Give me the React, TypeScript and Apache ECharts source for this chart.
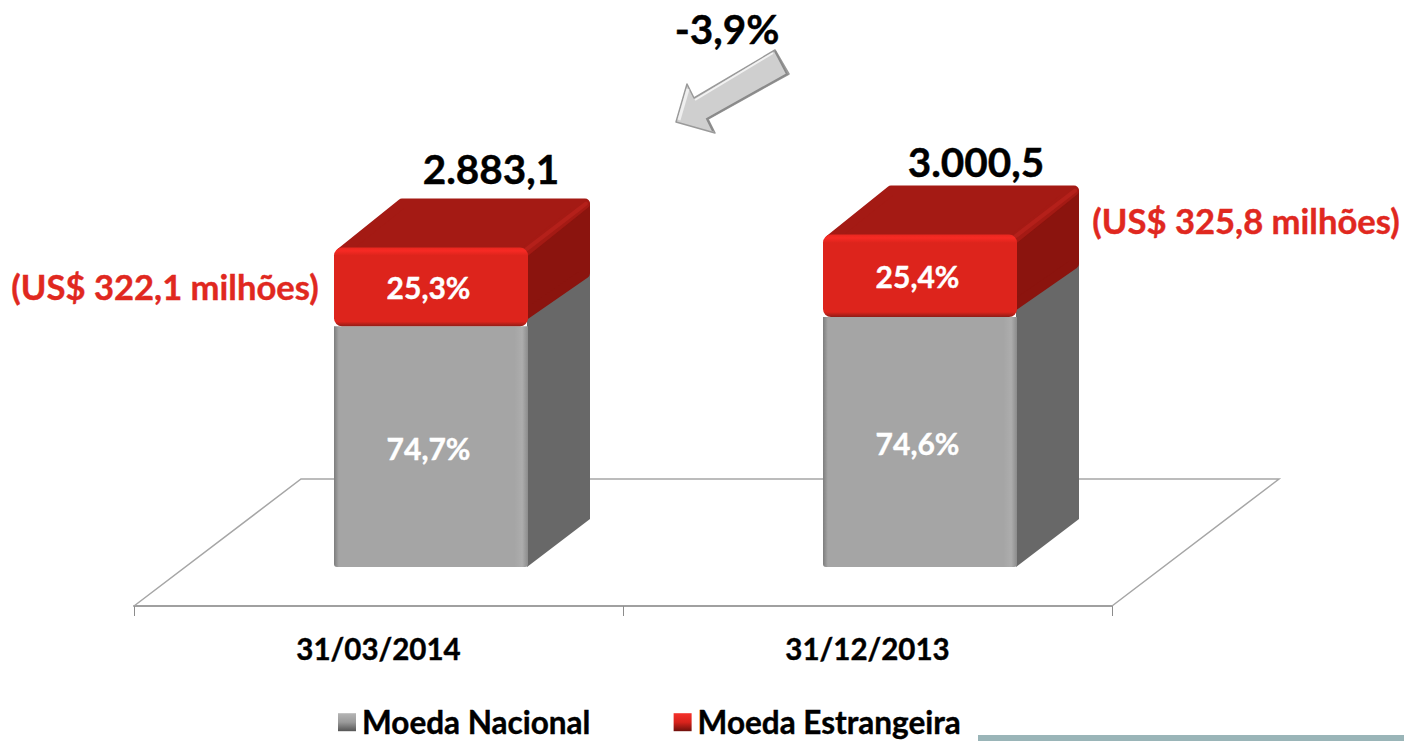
import React, { useEffect, useRef } from "react";
import * as echarts from "echarts";

const categories = ["31/03/2014", "31/12/2013"];
const moedaNacional = [2153.7, 2238.4];
const moedaEstrangeira = [729.4, 762.1];
const pctNacional = ["74,7%", "74,6%"];
const pctEstrangeira = ["25,3%", "25,4%"];
const totals = ["2.883,1", "3.000,5"];
const usdLabels = ["(US$ 322,1 milhões)", "(US$ 325,8 milhões)"];
const variation = "-3,9%";

const FONT = "Lato, Carlito, sans-serif";
const RED = "#e0281f";
const BAR_W = 194;
const OFF_X = 52.5, OFF_Y = 39;
const DX = 62, DY = 48;
const FLOOR_DX = 167, FLOOR_DY = 127;

const hGrad = (stops: [number, string][]) =>
  new echarts.graphic.LinearGradient(0, 0, 1, 0, stops.map(([offset, color]) => ({ offset, color })));
const vGrad = (stops: [number, string][]) =>
  new echarts.graphic.LinearGradient(0, 0, 0, 1, stops.map(([offset, color]) => ({ offset, color })));

function barFrame(api: any) {
  const cat = api.value(0);
  const b = api.coord([cat, api.value(1)]);
  const t = api.coord([cat, api.value(2)]);
  const x0 = b[0] + OFF_X - BAR_W / 2;
  return { cat, x0, x1: x0 + BAR_W, yB: b[1] - OFF_Y, yT: t[1] - OFF_Y };
}

const pctStyle = (text: string, x: number, y: number) => ({
  text, x, y, align: "center", verticalAlign: "middle", fill: "#fff",
  font: `bold 30px ${FONT}`, stroke: "#fff", lineWidth: 0.4,
});

const renderGray = (_p: any, api: any) => {
  const { cat, x0, x1, yB, yT } = barFrame(api);
  const top = yT - 2;
  const sideTop = yT - 10;
  return {
    type: "group",
    children: [
      { type: "polygon", shape: { points: [[x1 - 1, sideTop], [x1 + DX, sideTop - DY], [x1 + DX, yB - DY], [x1 - 1, yB]] }, style: { fill: "#686868" } },
      {
        type: "rect", shape: { x: x0, y: top, width: BAR_W, height: yB - top, r: [0, 0, 3, 3] },
        style: { fill: hGrad([[0, "#7d7d7d"], [0.025, "#a5a5a5"], [0.93, "#a5a5a5"], [0.97, "#adadad"], [1, "#8c8c8c"]]) },
      },
      { type: "text", style: pctStyle(pctNacional[cat], (x0 + x1) / 2 - 2.5, (yT + yB) / 2) },
    ],
  };
};

const renderRed = (_p: any, api: any) => {
  const { cat, x0, x1, yB, yT } = barFrame(api);
  const bot = yB - 2;
  const i = 5;
  return {
    type: "group",
    children: [
      {
        type: "polygon",
        shape: { points: [[x1 - 8, yT + 8], [x1 + DX - i, yT - DY + i], [x1 + DX - i, bot - DY - i], [x1 - 8, bot - 8]] },
        style: { fill: "#8b140e", stroke: "#8b140e", lineWidth: 10, lineJoin: "round" },
      },
      {
        type: "polygon",
        shape: { points: [[x0 + i + 2, yT + i], [x0 + DX + 6, yT - DY + i - 1], [x1 + DX - i, yT - DY + i - 1], [x1 - 4, yT + i]] },
        style: { fill: "#a41a14", stroke: "#a41a14", lineWidth: 10, lineJoin: "round" },
      },
      { type: "line", shape: { x1: x1 - 2, y1: yT + 2, x2: x1 + DX - 4, y2: yT - DY + 4 }, style: { stroke: "#b4201a", lineWidth: 4, lineCap: "round" } },
      {
        type: "rect", shape: { x: x0, y: yT, width: BAR_W, height: bot - yT, r: 8 },
        style: { fill: vGrad([[0, "#e8271f"], [0.04, "#f72a24"], [0.1, "#dd241c"], [0.94, "#dd241c"], [1, "#8f1c16"]]) },
      },
      { type: "text", style: pctStyle(pctEstrangeira[cat], (x0 + x1) / 2 - 2.5, (yT + bot) / 2) },
    ],
  };
};

const renderFloor = (p: any) => {
  const { x, y, width, height } = p.coordSys;
  const bx = x + width, by = y + height;
  return {
    type: "polyline",
    shape: { points: [[x, by], [x + FLOOR_DX, by - FLOOR_DY], [bx + FLOOR_DX, by - FLOOR_DY], [bx, by]] },
    style: { stroke: "#a6a6a6", lineWidth: 1.5, fill: "none" },
  };
};

const noteText = (text: string, x: number, y: number, size: number, fill: string) => ({
  type: "text", x, y,
  style: { text, align: "center", verticalAlign: "middle", fill, font: `bold ${size}px ${FONT}`, stroke: fill, lineWidth: 0.4 },
});

export default function App() {
  const ref = useRef<HTMLDivElement>(null);
  useEffect(() => {
    const chart = echarts.init(ref.current!, null, { renderer: "svg" });
    chart.setOption({
      animation: false,
      backgroundColor: "#fff",
      grid: { left: 134, top: 218.2, width: 978, height: 387.8 },
      xAxis: {
        type: "category",
        data: categories,
        axisLine: { lineStyle: { color: "#a0a0a0", width: 2 } },
        axisTick: { show: true, length: 10, alignWithLabel: false, lineStyle: { color: "#8c8c8c", width: 1 } },
        axisLabel: { color: "#000", fontFamily: FONT, fontWeight: "bold", fontSize: 29.5, margin: 27, textBorderColor: "#000", textBorderWidth: 0.4 },
      },
      yAxis: { type: "value", min: 0, max: 3500, show: false },
      legend: {
        data: ["Moeda Nacional", "Moeda Estrangeira"],
        left: 333, top: 701, padding: [5, 5, 0, 5], icon: "rect", itemWidth: 18, itemHeight: 18, itemGap: 83,
        textStyle: { color: "#000", fontFamily: FONT, fontWeight: "bold", fontSize: 31.5, lineHeight: 28, padding: [0, 0, 0, 1], textBorderColor: "#000", textBorderWidth: 0.4 },
      },
      series: [
        { type: "custom", name: "floor", silent: true, z: 1, data: [[0]], renderItem: renderFloor },
        {
          type: "custom", name: "Moeda Nacional", z: 3, renderItem: renderGray,
          itemStyle: { color: vGrad([[0, "#b5b5b5"], [0.5, "#9a9a9a"], [1, "#555"]]) },
          encode: { x: 0, y: [1, 2] },
          data: moedaNacional.map((v, i) => [i, 0, v]),
        },
        {
          type: "custom", name: "Moeda Estrangeira", z: 4, renderItem: renderRed,
          itemStyle: { color: vGrad([[0, "#f5312b"], [0.5, "#d8231c"], [1, "#6e100c"]]) },
          encode: { x: 0, y: [1, 2] },
          data: moedaEstrangeira.map((v, i) => [i, moedaNacional[i], moedaNacional[i] + v]),
        },
      ],
      graphic: [
        noteText(totals[0], 491, 168, 40.5, "#000"),
        noteText(totals[1], 976, 161, 40.5, "#000"),
        noteText(variation, 727, 28, 40.5, "#000"),
        noteText(usdLabels[0], 165, 286, 34.6, RED),
        noteText(usdLabels[1], 1246, 220, 34.6, RED),
        {
          type: "polygon",
          shape: { points: [[775, 50], [789, 74], [708, 119], [715, 133], [676, 122], [687, 84], [694, 98]] },
          style: { fill: "#cfcfcf", stroke: "#9a9a9a", lineWidth: 1.5, lineJoin: "round" },
        },
        { type: "polyline", shape: { points: [[773, 53], [695, 100]] }, style: { stroke: "#f2f2f2", lineWidth: 2, fill: "none" } },
        { type: "polyline", shape: { points: [[679, 120], [688, 89]] }, style: { stroke: "#efefef", lineWidth: 3, fill: "none" } },
        { type: "polyline", shape: { points: [[775, 51], [787, 74], [707, 119], [713, 131]] }, style: { stroke: "#8a8a8a", lineWidth: 2, fill: "none" } },
        { type: "rect", shape: { x: 978, y: 735, width: 426, height: 6 }, style: { fill: "#9ab5b8" } },
      ],
    });
    return () => chart.dispose();
  }, []);
  return <div ref={ref} style={{ position: "fixed", left: 0, top: 0, width: 1404, height: 741 }} />;
}
